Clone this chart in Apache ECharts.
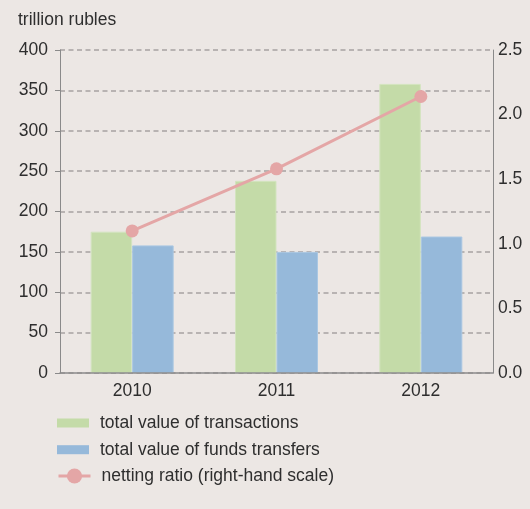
<!DOCTYPE html>
<html>
<head>
<meta charset="utf-8">
<script src="https://cdn.jsdelivr.net/npm/echarts@6/dist/echarts.min.js"></script>
<style>
  html, body { margin: 0; padding: 0; background: #ece7e4; }
  #chart { width: 530px; height: 509px; }
</style>
</head>
<body>
<div id="chart"></div>
<script>
// Payment system turnover by year
var years = ['2010', '2011', '2012'];
var transactions = [175, 238, 358];      // trillion rubles
var fundsTransfers = [158, 150, 169];    // trillion rubles
var nettingRatio = [1.10, 1.58, 2.14];   // right-hand scale

var leftTicks = { min: 0, max: 400, interval: 50 };
var rightTicks = { min: 0, max: 2.5, interval: 0.5 };

var names = {
  transactions: 'total value of transactions',
  transfers: 'total value of funds transfers',
  ratio: 'netting ratio (right-hand scale)'
};

var FONT = '"Liberation Sans", Arial, sans-serif';
var TEXT = '#2e2e2e';
var AXIS = '#8a8a8a';

var legendText = { fontFamily: FONT, fontSize: 17.5, color: TEXT, lineHeight: 20, padding: [0, 0, 0, 6] };

var chart = echarts.init(document.getElementById('chart'), null, { renderer: 'canvas' });

chart.setOption({
  backgroundColor: '#ece7e4',
  animation: false,
  textStyle: { fontFamily: FONT },
  graphic: [{
    type: 'text',
    left: 18,
    top: 11,
    style: { text: 'trillion rubles', fontFamily: FONT, fontSize: 17.5, fill: TEXT }
  }],
  grid: { left: 60, right: 37, top: 50, bottom: 136, containLabel: false },
  legend: [{
    orient: 'vertical',
    left: 57,
    top: 413,
    padding: 0,
    itemWidth: 32,
    itemHeight: 9,
    itemGap: 6.7,
    icon: 'rect',
    itemStyle: { borderWidth: 0 },
    data: [names.transactions, names.transfers],
    textStyle: legendText
  }, {
    orient: 'vertical',
    left: 57,
    top: 466,
    padding: 0,
    itemWidth: 32,
    itemHeight: 19,
    itemStyle: { borderWidth: 0 },
    lineStyle: { width: 3 },
    data: [names.ratio],
    textStyle: legendText
  }],
  xAxis: {
    type: 'category',
    data: years,
    axisTick: { show: false },
    axisLine: { lineStyle: { color: AXIS, width: 1.5 } },
    axisLabel: { color: TEXT, fontSize: 17.5, fontFamily: FONT, margin: 9 },
    z: 3
  },
  yAxis: [{
    type: 'value',
    min: leftTicks.min,
    max: leftTicks.max,
    interval: leftTicks.interval,
    axisLine: { show: true, lineStyle: { color: AXIS, width: 1 } },
    axisTick: { show: true, length: 5, lineStyle: { color: AXIS } },
    axisLabel: { color: TEXT, fontSize: 17.5, fontFamily: FONT, margin: 12 },
    splitLine: { show: true, lineStyle: { color: '#a6a3a1', type: [5, 3.5], width: 1.5 } }
  }, {
    type: 'value',
    position: 'right',
    min: rightTicks.min,
    max: rightTicks.max,
    interval: rightTicks.interval,
    axisLine: { show: true, lineStyle: { color: AXIS, width: 1 } },
    axisTick: { show: false },
    axisLabel: {
      color: TEXT, fontSize: 17.5, fontFamily: FONT, margin: 5,
      formatter: function (v) { return v.toFixed(1); }
    },
    splitLine: { show: false }
  }],
  series: [{
    name: names.transactions,
    type: 'bar',
    data: transactions,
    barWidth: 41.5,
    barGap: '0%',
    itemStyle: { color: '#c4dba8', borderColor: '#d3e4bf', borderWidth: 1 }
  }, {
    name: names.transfers,
    type: 'bar',
    data: fundsTransfers,
    barWidth: 41.5,
    barGap: '0%',
    itemStyle: { color: '#96b9da', borderColor: '#aac7e2', borderWidth: 1 }
  }, {
    name: names.ratio,
    type: 'line',
    yAxisIndex: 1,
    data: nettingRatio,
    symbol: 'circle',
    symbolSize: 13,
    lineStyle: { color: '#e4a6a6', width: 3 },
    itemStyle: { color: '#e4a6a6' },
    z: 5
  }]
});
</script>
</body>
</html>
